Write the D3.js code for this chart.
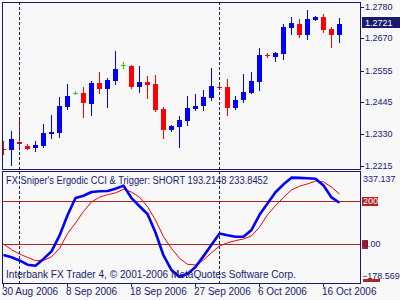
<!DOCTYPE html>
<html>
<head>
<meta charset="utf-8">
<script src="https://cdn.jsdelivr.net/npm/d3@7"></script>
<style>
  body { margin: 0; background: #f8f8f8; }
  svg { display: block; }
  text { font-family: "Liberation Sans", Arial, sans-serif; fill: #191970; }
</style>
</head>
<body>
<div id="chart"></div>
<script>
// Daily bars (MT4 shows Sunday bars too)
const dates = [
  "2006-08-30", "2006-08-31", "2006-09-01", "2006-09-03", "2006-09-04", "2006-09-05", "2006-09-06", "2006-09-07",
  "2006-09-08", "2006-09-10", "2006-09-11", "2006-09-12", "2006-09-13", "2006-09-14", "2006-09-15", "2006-09-17",
  "2006-09-18", "2006-09-19", "2006-09-20", "2006-09-21", "2006-09-22", "2006-09-24", "2006-09-25", "2006-09-26",
  "2006-09-27", "2006-09-28", "2006-09-29", "2006-10-01", "2006-10-02", "2006-10-03", "2006-10-04", "2006-10-05",
  "2006-10-06", "2006-10-08", "2006-10-09", "2006-10-10", "2006-10-11", "2006-10-12", "2006-10-13", "2006-10-15",
  "2006-10-16", "2006-10-17", "2006-10-18"
];
const openP = [
  1.2277, 1.2274, 1.2302, 1.2287, 1.2281, 1.2289, 1.2330, 1.2335, 1.2427, 1.2476, 1.2476, 1.2438, 1.2511, 1.2491,
  1.2519, 1.2575, 1.2572, 1.2498, 1.2515, 1.2508, 1.2419, 1.2345, 1.2356, 1.2377, 1.2420, 1.2431, 1.2459, 1.2498,
  1.2497, 1.2424, 1.2452, 1.2477, 1.2516, 1.2612, 1.2605, 1.2615, 1.2708, 1.2721, 1.2683, 1.2736, 1.2746, 1.2703, 1.2683
];
const highP = [
  1.2305, 1.2341, 1.2388, 1.2295, 1.2305, 1.2366, 1.2398, 1.2462, 1.2508, 1.2483, 1.2497, 1.2518, 1.2550, 1.2529,
  1.2625, 1.2586, 1.2575, 1.2572, 1.2536, 1.2540, 1.2426, 1.2362, 1.2394, 1.2465, 1.2472, 1.2486, 1.2564, 1.2504,
  1.2525, 1.2465, 1.2543, 1.2550, 1.2636, 1.2618, 1.2621, 1.2721, 1.2746, 1.2739, 1.2771, 1.2749, 1.2756, 1.2710, 1.2742
];
const lowP = [
  1.2259, 1.2221, 1.2278, 1.2277, 1.2271, 1.2285, 1.2317, 1.2321, 1.2420, 1.2472, 1.2392, 1.2399, 1.2477, 1.2427,
  1.2509, 1.2565, 1.2495, 1.2480, 1.2459, 1.2413, 1.2317, 1.2342, 1.2285, 1.2363, 1.2416, 1.2416, 1.2452, 1.2490,
  1.2399, 1.2420, 1.2445, 1.2477, 1.2487, 1.2605, 1.2590, 1.2598, 1.2686, 1.2676, 1.2669, 1.2736, 1.2693, 1.2640, 1.2658
];
const closeP = [
  1.2276, 1.2312, 1.2295, 1.2278, 1.2291, 1.2334, 1.2337, 1.2430, 1.2465, 1.2476, 1.2441, 1.2511, 1.2491, 1.2522,
  1.2561, 1.2575, 1.2498, 1.2515, 1.2505, 1.2415, 1.2345, 1.2358, 1.2380, 1.2422, 1.2430, 1.2462, 1.2501, 1.2497,
  1.2424, 1.2451, 1.2479, 1.2518, 1.2611, 1.2611, 1.2618, 1.2710, 1.2724, 1.2683, 1.2739, 1.2746, 1.2701, 1.2683, 1.2721
];
// FX Sniper's Ergodic CCI (blue) and Trigger (red)
const ergodic = [
  -50, -60, -75, -95, -100, -68, -33, 40, 135, 215, 226, 243, 247, 248, 258, 273, 215, 177, 141, 55, -52, -120,
  -151, -138, -106, -55, -2, 50, 42, 35, 35, 67, 137, 190, 242, 279, 310, 309, 307, 305, 274, 218, 193.2148
];
const trigger = [
  1, -25, -45, -61, -76, -75, -58, -20, 50, 99, 153, 197, 219, 231, 239, 256, 243, 219, 175, 113, 35, -19,
  -65, -93, -96, -73, -39, -8, 7, 17, 25, 39, 80, 137, 180, 218, 253, 270, 281, 294, 290, 266, 233.8452
];

const priceTicks = [1.2780, 1.2670, 1.2555, 1.2445, 1.2330, 1.2215];
const priceRange = [1.2215, 1.2780];
const cciRange = [-178.569, 337.137];
const levels = [200, 0];
const levelLabels = ["200", "0.00"];
const separators = ["2006-09-01", "2006-10-01"];
const dateTicks = ["2006-08-30", "2006-09-08", "2006-09-18", "2006-09-27", "2006-10-06", "2006-10-16"];
const dateLabels = ["30 Aug 2006", "8 Sep 2006", "18 Sep 2006", "27 Sep 2006", "6 Oct 2006", "16 Oct 2006"];
const titleText = "FX Sniper's Ergodic CCI & Trigger: SHORT 193.2148 233.8452";
const copyText = "Interbank FX Trader 4, \u00a9 2001-2006 MetaQuotes Software Corp.";

const width = 400, height = 300;
const fg = "#191970", lvl = "#b22222";
const left = 2, right = 360;
const main = { top: 2, bottom: 169 };
const ind = { top: 171, bottom: 283 };
const axisFont = "9px";

const svg = d3.select("#chart").append("svg")
  .attr("width", width)
  .attr("height", height)
  .attr("shape-rendering", "crispEdges");

svg.append("rect").attr("width", width).attr("height", height).attr("fill", "#f8f8f8");

// Scales
const x = d3.scalePoint().domain(dates).range([3, 339]);
const y = d3.scaleLinear().domain(priceRange).range([166.4, 7.3]);
const yc = d3.scaleLinear().domain(cciRange).range([282.7, 171.8]);

// Clip paths for the two panels
const defs = svg.append("defs");
defs.append("clipPath").attr("id", "clipMain").append("rect")
  .attr("x", left + 1).attr("y", main.top + 1)
  .attr("width", right - left - 1).attr("height", main.bottom - main.top - 1);
defs.append("clipPath").attr("id", "clipInd").append("rect")
  .attr("x", left + 1).attr("y", ind.top + 1)
  .attr("width", right - left - 1).attr("height", ind.bottom - ind.top - 1);

const gMain = svg.append("g").attr("clip-path", "url(#clipMain)");
const gInd = svg.append("g").attr("clip-path", "url(#clipInd)");

// Period separators
separators.forEach(d => {
  [[main.top, main.bottom], [ind.top, ind.bottom]].forEach(([a, b]) => {
    svg.append("line")
      .attr("x1", x(d) + 0.5).attr("x2", x(d) + 0.5)
      .attr("y1", a).attr("y2", b)
      .attr("stroke", fg)
      .attr("stroke-dasharray", "3,2");
  });
});

// Candles
const bars = dates.map((d, i) => ({ d, o: openP[i], h: highP[i], l: lowP[i], c: closeP[i] }));
const candleColor = b => b.c > b.o ? "#0000ff" : (b.c < b.o ? "#ff0000" : "#32cd32");

gMain.selectAll(".wick")
  .data(bars)
  .join("line")
  .attr("class", "wick")
  .attr("x1", b => x(b.d) + 0.5).attr("x2", b => x(b.d) + 0.5)
  .attr("y1", b => Math.round(y(b.h))).attr("y2", b => Math.round(y(b.l)) + 1)
  .attr("stroke", candleColor);

gMain.selectAll(".body")
  .data(bars)
  .join("rect")
  .attr("class", "body")
  .attr("x", b => x(b.d) - 2)
  .attr("width", 5)
  .attr("y", b => Math.round(y(Math.max(b.o, b.c))))
  .attr("height", b => Math.max(1, Math.round(y(Math.min(b.o, b.c))) - Math.round(y(Math.max(b.o, b.c)))))
  .attr("fill", candleColor);

// Indicator levels
levels.forEach(v => {
  gInd.append("line")
    .attr("x1", left).attr("x2", right)
    .attr("y1", Math.round(yc(v)) + 0.5).attr("y2", Math.round(yc(v)) + 0.5)
    .attr("stroke", lvl);
});

// Indicator lines
const lineGen = vals => d3.line()
  .x((d, i) => x(dates[i]) + 0.5)
  .y(d => yc(d))(vals);

gInd.append("path")
  .attr("d", lineGen(trigger))
  .attr("fill", "none")
  .attr("stroke", "#ff0000")
  .attr("stroke-width", 1)
  .attr("shape-rendering", "auto");

gInd.append("path")
  .attr("d", lineGen(ergodic))
  .attr("fill", "none")
  .attr("stroke", "#0000ff")
  .attr("stroke-width", 2.6)
  .attr("stroke-linejoin", "round")
  .attr("shape-rendering", "auto");

// Panel borders
[main, ind].forEach(p => {
  svg.append("rect")
    .attr("x", left + 0.5).attr("y", p.top + 0.5)
    .attr("width", right - left).attr("height", p.bottom - p.top)
    .attr("fill", "none")
    .attr("stroke", fg);
});

// Price axis
const priceAxis = svg.append("g");
priceTicks.forEach(v => {
  const py = Math.round(y(v));
  priceAxis.append("line")
    .attr("x1", right + 1).attr("x2", right + 4)
    .attr("y1", py + 0.5).attr("y2", py + 0.5)
    .attr("stroke", fg);
  priceAxis.append("text")
    .attr("x", 365).attr("y", py)
    .attr("dy", "0.35em")
    .style("font-size", axisFont)
    .text(d3.format(".4f")(v));
});

// Last price marker
const last = closeP[closeP.length - 1];
priceAxis.append("rect")
  .attr("x", 362).attr("y", y(last) - 6.5)
  .attr("width", 38).attr("height", 11)
  .attr("fill", fg);
priceAxis.append("text")
  .attr("x", 365).attr("y", y(last) - 1)
  .attr("dy", "0.35em")
  .style("font-size", axisFont)
  .style("fill", "#ffffff")
  .text(d3.format(".4f")(last));

// Indicator axis
const cciAxis = svg.append("g");
cciAxis.append("text")
  .attr("x", 363).attr("y", yc(cciRange[1]) + 7)
  .attr("dy", "0.35em")
  .style("font-size", axisFont)
  .text(d3.format(".3f")(cciRange[1]));
cciAxis.append("text")
  .attr("x", 362).attr("y", yc(cciRange[0]) - 7)
  .attr("dy", "0.35em")
  .style("font-size", axisFont)
  .text(d3.format(".3f")(cciRange[0]));
cciAxis.append("rect")
  .attr("x", 363).attr("y", yc(cciRange[0]) - 3.5)
  .attr("width", 17).attr("height", 3)
  .attr("fill", lvl);

levels.forEach((v, i) => {
  const py = yc(v);
  const label = levelLabels[i];
  if (v !== 0) {
    cciAxis.append("rect")
      .attr("x", 362).attr("y", py - 4.5)
      .attr("width", 16).attr("height", 9)
      .attr("fill", lvl);
    cciAxis.append("text")
      .attr("x", 363).attr("y", py)
      .attr("dy", "0.35em")
      .style("font-size", axisFont)
      .style("fill", "#ffffff")
      .text(label);
  } else {
    cciAxis.append("rect")
      .attr("x", 362).attr("y", py - 4)
      .attr("width", 6).attr("height", 9)
      .attr("fill", lvl);
    cciAxis.append("text")
      .attr("x", 363).attr("y", py)
      .attr("dy", "0.35em")
      .style("font-size", axisFont)
      .text(label);
  }
});

// Date axis
dateTicks.forEach((d, i) => {
  svg.append("line")
    .attr("x1", x(d) + 0.5).attr("x2", x(d) + 0.5)
    .attr("y1", ind.bottom).attr("y2", ind.bottom + 4)
    .attr("stroke", fg);
  svg.append("text")
    .attr("x", x(d) - 1).attr("y", 295)
    .style("font-size", "10px")
    .text(dateLabels[i]);
});

// Indicator title and copyright
svg.append("text")
  .attr("x", 6).attr("y", 184)
  .style("font-size", "10px")
  .attr("textLength", 262)
  .attr("lengthAdjust", "spacingAndGlyphs")
  .text(titleText);

svg.append("text")
  .attr("x", 6).attr("y", 278)
  .style("font-size", "10px")
  .attr("textLength", 290)
  .attr("lengthAdjust", "spacingAndGlyphs")
  .text(copyText);
</script>
</body>
</html>
